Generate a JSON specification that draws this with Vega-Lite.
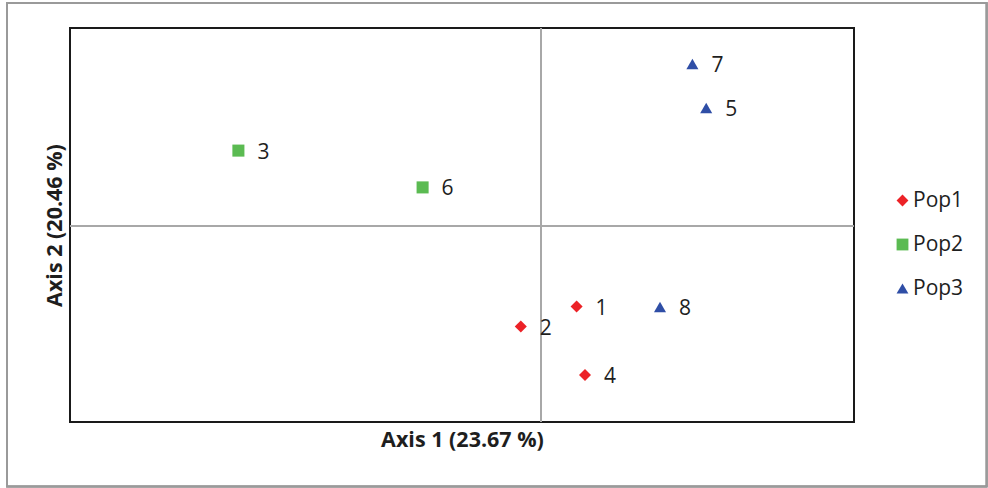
{
  "$schema": "https://vega.github.io/schema/vega-lite/v6.json",
  "width": 784,
  "height": 394,
  "autosize": "none",
  "padding": {"left": 70, "top": 28, "right": 134, "bottom": 66},
  "background": "white",
  "config": {
    "font": "Open Sans",
    "view": {"stroke": "#1a1a1a", "strokeWidth": 2}
  },
  "data": {
    "values": [
      {"id": "1", "pop": "Pop1", "axis1": 0.178, "axis2": -0.403},
      {"id": "2", "pop": "Pop1", "axis1": -0.101, "axis2": -0.503},
      {"id": "4", "pop": "Pop1", "axis1": 0.22, "axis2": -0.745},
      {"id": "3", "pop": "Pop2", "axis1": -1.513, "axis2": 0.377},
      {"id": "6", "pop": "Pop2", "axis1": -0.592, "axis2": 0.193},
      {"id": "7", "pop": "Pop3", "axis1": 0.757, "axis2": 0.81},
      {"id": "5", "pop": "Pop3", "axis1": 0.826, "axis2": 0.59},
      {"id": "8", "pop": "Pop3", "axis1": 0.595, "axis2": -0.405}
    ]
  },
  "layer": [
    {
      "mark": {"type": "rect", "fill": null, "stroke": "#9a9a9a", "strokeWidth": 1.5, "clip": false},
      "encoding": {
        "x": {"datum": -2.67, "type": "quantitative"},
        "x2": {"datum": 2.228},
        "y": {"datum": 1.115, "type": "quantitative"},
        "y2": {"datum": -1.302}
      }
    },
    {
      "mark": {"type": "rule", "color": "#a8a8a8", "strokeWidth": 1.5},
      "encoding": {"x": {"datum": 0, "type": "quantitative"}}
    },
    {
      "mark": {"type": "rule", "color": "#a8a8a8", "strokeWidth": 1.5},
      "encoding": {"y": {"datum": 0, "type": "quantitative"}}
    },
    {
      "mark": {"type": "point", "filled": true, "opacity": 1, "size": 145},
      "encoding": {
        "x": {
          "field": "axis1",
          "type": "quantitative",
          "scale": {"domain": [-2.355, 1.565], "nice": false, "zero": false},
          "axis": {
            "title": "Axis 1 (23.67 %)",
            "labels": false, "ticks": false, "domain": false, "grid": false,
            "titleFont": "Open Sans", "titleFontSize": 21.5, "titleFontWeight": "bold",
            "titleColor": "#1e1e1e", "titlePadding": 7
          }
        },
        "y": {
          "field": "axis2",
          "type": "quantitative",
          "scale": {"domain": [-0.98, 0.99], "nice": false, "zero": false},
          "axis": {
            "title": "Axis 2 (20.46 %)",
            "labels": false, "ticks": false, "domain": false, "grid": false,
            "titleFont": "Open Sans", "titleFontSize": 21.5, "titleFontWeight": "bold",
            "titleColor": "#1e1e1e", "titlePadding": 4
          }
        },
        "color": {
          "field": "pop",
          "type": "nominal",
          "scale": {"domain": ["Pop1", "Pop2", "Pop3"], "range": ["#ec2227", "#5bbb52", "#2f4ea6"]},
          "legend": {
            "title": null,
            "orient": "none",
            "legendX": 822,
            "legendY": 162,
            "labelFont": "Open Sans",
            "labelFontSize": 21,
            "labelColor": "#1e1e1e",
            "symbolSize": 140,
            "rowPadding": 22,
            "labelOffset": 0
          }
        },
        "shape": {
          "field": "pop",
          "type": "nominal",
          "scale": {"domain": ["Pop1", "Pop2", "Pop3"], "range": ["diamond", "square", "triangle-up"]},
          "legend": null
        }
      }
    },
    {
      "mark": {"type": "text", "align": "left", "baseline": "middle", "dx": 19, "dy": 2, "fontSize": 21, "font": "Open Sans", "color": "#1e1e1e"},
      "encoding": {
        "x": {"field": "axis1", "type": "quantitative"},
        "y": {"field": "axis2", "type": "quantitative"},
        "text": {"field": "id"}
      }
    }
  ]
}
